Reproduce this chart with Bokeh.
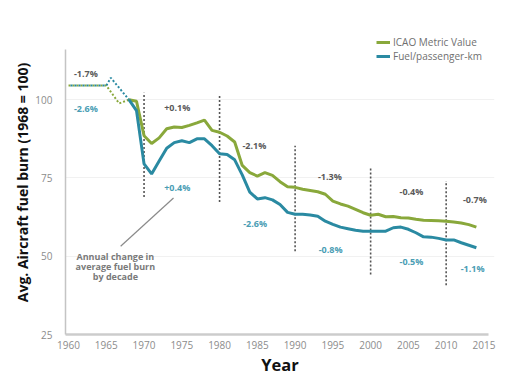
from bokeh.plotting import figure
from bokeh.models import Range1d, FixedTicker, ColumnDataSource
from bokeh.embed import file_html
from bokeh.resources import INLINE
from bokeh.core.properties import value

# ---------------- data ----------------
years = list(range(1968, 2015))
icao_metric = [100, 99.5, 88.5, 86, 87.8, 90.7, 91.3, 91.1, 91.8, 92.6,
               93.5, 90.2, 89.6, 88.4, 86.5, 79, 76.7, 75.6, 76.7, 75.8,
               73.8, 72.2, 72, 71.4, 71, 70.6, 69.8, 67.6, 66.7, 66,
               65, 63.9, 63.1, 63.4, 62.6, 62.7, 62.3, 62.2, 61.8, 61.5,
               61.4, 61.3, 61.2, 60.9, 60.6, 60.1, 59.3]
fuel_pkm = [100, 96.5, 79.5, 76.3, 80.4, 84.5, 86.3, 86.9, 86.3, 87.5,
            87.5, 85.3, 82.7, 82.5, 80.8, 76, 70.5, 68.3, 68.7, 68,
            66.5, 64, 63.4, 63.4, 63.2, 62.8, 61.2, 60.2, 59.3, 58.8,
            58.3, 58, 58, 58, 58, 59.1, 59.3, 58.6, 57.5, 56.2,
            56.1, 55.7, 55.2, 55.2, 54.3, 53.5, 52.7]

# early (estimated) period, dotted
icao_pre_years = [1960, 1965, 1966.7, 1968]
icao_pre = [104.5, 104.5, 98.8, 100]
fuel_pre_years = [1960, 1965, 1965.6, 1968]
fuel_pre = [104.5, 104.5, 107, 100]

# decade separators
decade_years = [1970, 1980, 1990, 2000, 2010]
decade_top = [102.2, 101.3, 85.3, 78.2, 74]
decade_bottom = [68.9, 67.3, 51.6, 44.2, 40.7]

# annual change per decade labels
icao_change_text = ["-1.7%", "+0.1%", "-2.1%", "-1.3%", "-0.4%", "-0.7%"]
icao_change_x = [1962.3, 1974.4, 1984.6, 1994.6, 2005.4, 2013.8]
icao_change_y = [108.3, 97.4, 85.3, 75.6, 70.8, 68.0]
fuel_change_text = ["-2.6%", "+0.4%", "-2.6%", "-0.8%", "-0.5%", "-1.1%"]
fuel_change_x = [1962.3, 1974.4, 1984.7, 1994.7, 2005.4, 2013.5]
fuel_change_y = [97.1, 71.8, 60.6, 52.2, 48.4, 46.2]

note_lines = ["Annual change in", "average fuel burn", "by decade"]
note_x = [1966.2, 1966.2, 1966.2]
note_y = [49.9, 46.7, 43.5]
leader_x = [1966.9, 1973.9]
leader_y = [53.2, 68.6]

x_ticks = [1960, 1965, 1970, 1975, 1980, 1985, 1990, 1995, 2000, 2005, 2010, 2015]
y_ticks = [25, 50, 75, 100]
x_title = "Year"
y_title = "Avg. Aircraft fuel burn (1968 = 100)"

GREEN = "#89a83b"
TEAL = "#2a8aa2"
TEAL_TXT = "#4a9db4"
DARK_TXT = "#5a5a5a"
FONT = "Open Sans"

# ---------------- figure ----------------
p = figure(width=518, height=378,
           x_range=Range1d(1959.6, 2016.4), y_range=Range1d(25, 122.1),
           output_backend="svg", toolbar_location=None,
           min_border_left=65, min_border_right=24,
           min_border_top=30, min_border_bottom=44)
p.outline_line_color = None
p.background_fill_color = "white"
p.border_fill_color = "white"

p.xgrid.grid_line_color = None
p.ygrid.grid_line_color = "#f1f1f1"
p.ygrid.ticker = FixedTicker(ticks=y_ticks)

# axes
p.xaxis.ticker = FixedTicker(ticks=x_ticks)
p.xaxis.bounds = (1959.6, 2015.6)
p.xaxis.axis_line_color = "#cccccc"
p.xaxis.axis_line_width = 2.5
p.xaxis.major_tick_line_color = None
p.xaxis.minor_tick_line_color = None
p.xaxis.major_label_text_color = "#8c8c8c"
p.xaxis.major_label_text_font = FONT
p.xaxis.major_label_text_font_size = "10px"
p.xaxis.major_label_standoff = 0
p.xaxis.axis_label = x_title
p.xaxis.axis_label_text_font = FONT
p.xaxis.axis_label_text_font_style = "bold"
p.xaxis.axis_label_text_font_size = "16.5px"
p.xaxis.axis_label_text_color = "#111111"
p.xaxis.axis_label_standoff = 1

p.yaxis.ticker = FixedTicker(ticks=y_ticks)
p.yaxis.bounds = (25, 116)
p.yaxis.axis_line_color = "#c4c4c4"
p.yaxis.axis_line_width = 1.5
p.yaxis.major_tick_line_color = None
p.yaxis.minor_tick_line_color = None
p.yaxis.major_label_text_color = "#8c8c8c"
p.yaxis.major_label_text_font = FONT
p.yaxis.major_label_text_font_size = "10px"
p.yaxis.major_label_standoff = 7
p.yaxis.axis_label = y_title
p.yaxis.axis_label_text_font = FONT
p.yaxis.axis_label_text_font_style = "bold"
p.yaxis.axis_label_text_font_size = "14px"
p.yaxis.axis_label_text_color = "#111111"
p.yaxis.axis_label_standoff = 0

# decade separators
p.segment(x0=decade_years, y0=decade_bottom, x1=decade_years, y1=decade_top,
          line_color="#555555", line_width=1.6, line_dash="2 2")

# dotted early period
p.line(icao_pre_years, icao_pre, line_color=GREEN, line_width=2, line_dash="2 2")
p.line(fuel_pre_years, fuel_pre, line_color=TEAL, line_width=2, line_dash="2 2",
       line_dash_offset=2)

# main series
p.line(years, icao_metric, line_color=GREEN, line_width=3, legend_label="ICAO Metric Value")
p.line(years, fuel_pkm, line_color=TEAL, line_width=3, legend_label="Fuel/passenger-km")

# change labels
src_i = ColumnDataSource(dict(x=icao_change_x, y=icao_change_y, t=icao_change_text))
src_f = ColumnDataSource(dict(x=fuel_change_x, y=fuel_change_y, t=fuel_change_text))
p.text(x="x", y="y", text="t", source=src_i, text_color=DARK_TXT,
       text_font=value(FONT), text_font_style="bold", text_font_size="9px",
       text_align="center", text_baseline="middle")
p.text(x="x", y="y", text="t", source=src_f, text_color=TEAL_TXT,
       text_font=value(FONT), text_font_style="bold", text_font_size="9px",
       text_align="center", text_baseline="middle")

# note
p.segment(x0=[leader_x[0]], y0=[leader_y[0]], x1=[leader_x[1]], y1=[leader_y[1]],
          line_color="#8a8a8a", line_width=1.2)
src_n = ColumnDataSource(dict(x=note_x, y=note_y, t=note_lines))
p.text(x="x", y="y", text="t", source=src_n, text_color="#7a7a7a",
       text_font=value(FONT), text_font_style="bold", text_font_size="9px",
       text_align="center", text_baseline="middle")

# legend
lg = p.legend[0]
lg.location = (311, 271)
lg.margin = 0
lg.padding = 6
lg.spacing = 0
lg.border_line_color = None
lg.background_fill_alpha = 0
lg.glyph_width = 14
lg.glyph_height = 12
lg.label_height = 12
lg.label_standoff = 3
lg.label_text_font = FONT
lg.label_text_font_size = "10px"
lg.label_text_color = "#6f6f6f"

open("out.html", "w").write(file_html(p, INLINE))
